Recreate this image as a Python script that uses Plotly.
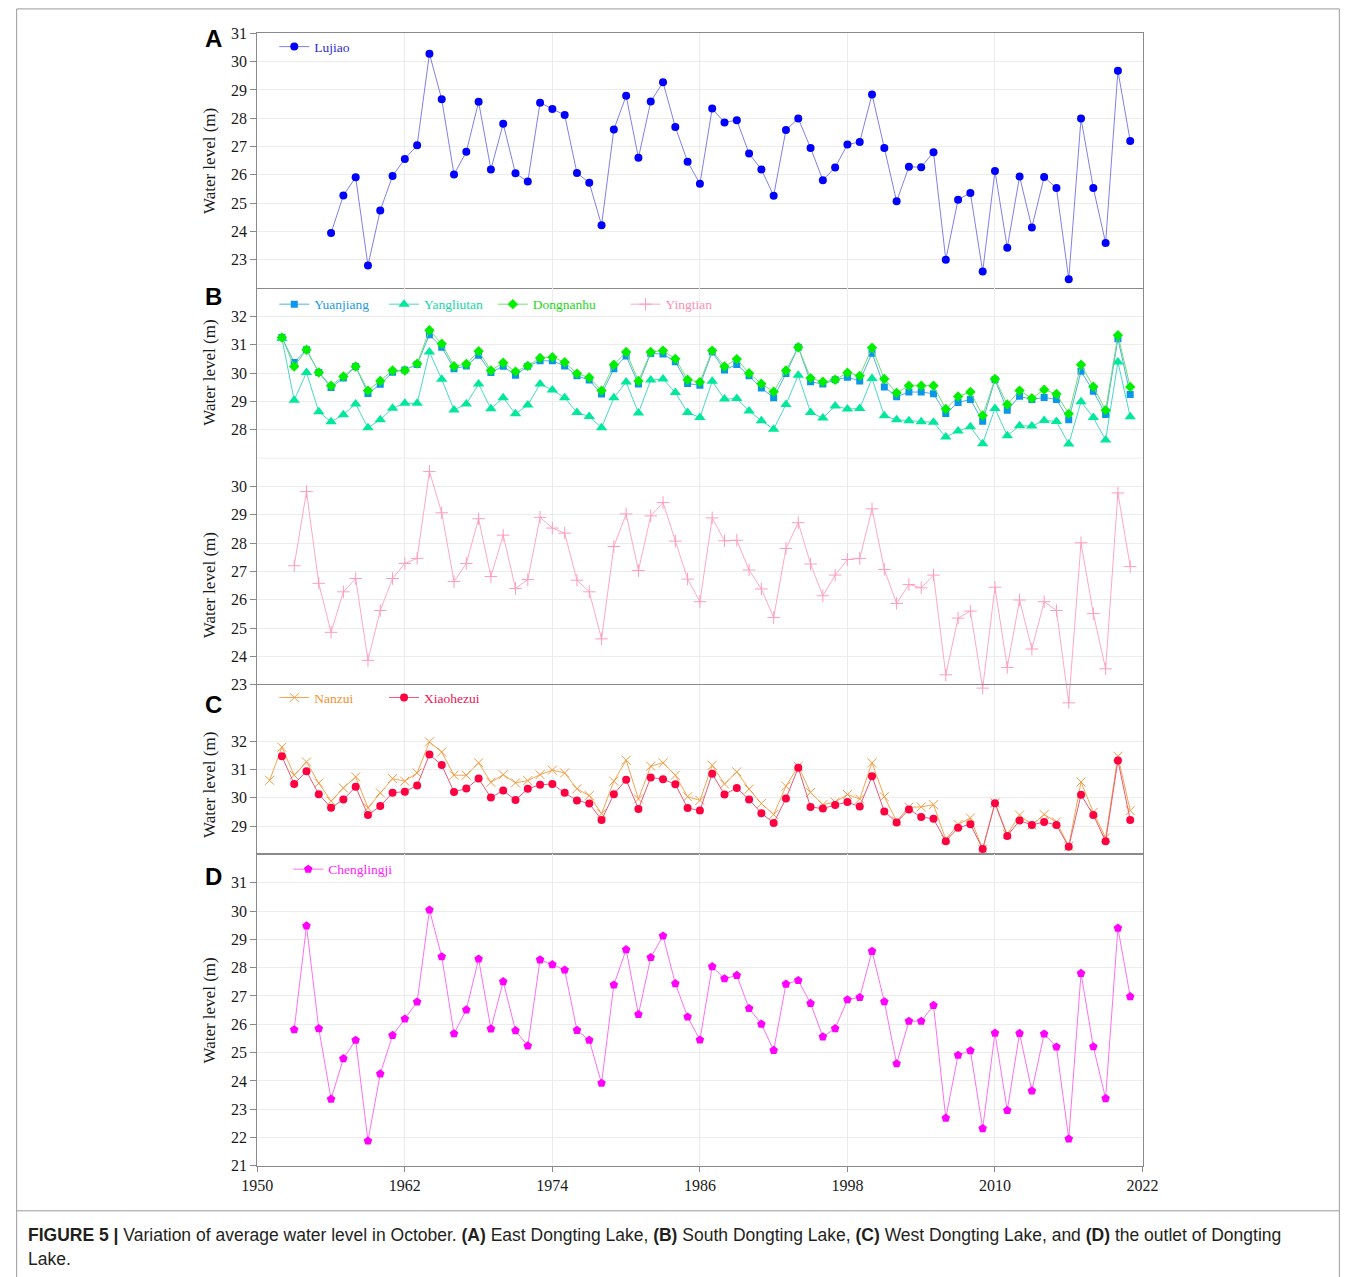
import plotly.graph_objects as go

W, H = 1356, 1277
# empirical mapping between layout paper and the photographed page
OX, OY, SW, SH = 14.2, 7.1, 1326.7, 1262.2


def fx(x):
    return min(max((x - OX) / SW, 0.0005), 0.9995)


def fy(y):
    return 1 - (y - OY) / SH


# ---------------- data (October average water level, m) ----------------
year_ticks = [1950, 1962, 1974, 1986, 1998, 2010, 2022]

lujiao_start = 1956
lujiao = [23.94, 25.27, 25.91, 22.79, 24.74, 25.96, 26.56, 27.04, 30.28, 28.67,
          26.01, 26.81, 28.58, 26.19, 27.80, 26.05, 25.76, 28.55, 28.33, 28.11,
          26.06, 25.72, 24.22, 27.60, 28.79, 26.60, 28.59, 29.27, 27.69, 26.46,
          25.68, 28.34, 27.85, 27.93, 26.75, 26.19, 25.26, 27.58, 27.99, 26.95,
          25.81, 26.26, 27.07, 27.16, 28.84, 26.95, 25.06, 26.28, 26.27, 26.80,
          23.00, 25.12, 25.36, 22.58, 26.13, 23.42, 25.94, 24.14, 25.92, 25.53,
          22.31, 27.99, 25.53, 23.59, 29.68, 27.19]

yuanjiang_start = 1952
yuanjiang = [31.25, 30.37, 30.82, 30.02, 29.49, 29.82, 30.23, 29.28, 29.60, 30.03,
             30.11, 30.30, 31.35, 30.91, 30.15, 30.25, 30.63, 30.02, 30.24, 29.92,
             30.24, 30.43, 30.43, 30.25, 29.90, 29.75, 29.26, 30.15, 30.60, 29.61,
             30.69, 30.67, 30.40, 29.63,
             29.57, 30.74, 30.11, 30.30, 29.90, 29.47, 29.13, 29.98, 30.91, 29.69,
             29.61, 29.76, 29.85, 29.72, 30.70, 29.51, 29.16, 29.33, 29.33, 29.27,
             28.57, 28.96, 29.07, 28.30, 29.76, 28.69, 29.18, 29.07, 29.14, 29.07,
             28.35, 30.06, 29.36, 28.54, 31.21, 29.24]

yangliutan_start = 1952
yangliutan = [31.22, 29.04, 30.02, 28.63, 28.28, 28.53, 28.91, 28.07, 28.35, 28.76,
              28.93, 28.93, 30.74, 29.78, 28.70, 28.91, 29.61, 28.74, 29.13, 28.56,
              28.87, 29.61, 29.40, 29.13, 28.61, 28.47, 28.07, 29.13, 29.68, 28.59,
              29.75, 29.79, 29.31, 28.61,
              28.43, 29.71, 29.08, 29.10, 28.66, 28.32, 28.02, 28.89, 29.92, 28.61,
              28.41, 28.84, 28.73, 28.75, 29.81, 28.49, 28.35, 28.32, 28.28, 28.26,
              27.74, 27.96, 28.11, 27.51, 28.75, 27.79, 28.14, 28.13, 28.33, 28.29,
              27.50, 28.99, 28.43, 27.64, 30.39, 28.46]

dongnanhu_start = 1952
dongnanhu = [31.25, 30.23, 30.82, 30.02, 29.55, 29.88, 30.23, 29.38, 29.72, 30.09,
             30.09, 30.33, 31.51, 31.03, 30.24, 30.32, 30.77, 30.09, 30.36, 30.05,
             30.25, 30.53, 30.56, 30.38, 29.98, 29.84, 29.38, 30.29, 30.74, 29.72,
             30.74, 30.79, 30.50, 29.76,
             29.68, 30.79, 30.23, 30.49, 29.99, 29.62, 29.34, 30.09, 30.91, 29.82,
             29.69, 29.76, 30.01, 29.90, 30.89, 29.79, 29.30, 29.55, 29.55, 29.55,
             28.73, 29.17, 29.33, 28.50, 29.79, 28.89, 29.38, 29.11, 29.41, 29.26,
             28.56, 30.29, 29.52, 28.69, 31.33, 29.51]

yingtian_start = 1953
yingtian = [27.20, 29.82, 26.58, 24.85, 26.28, 26.75, 23.86, 25.62, 26.75, 27.28,
            27.46, 30.53, 29.07, 26.64, 27.28, 28.86, 26.82, 28.28, 26.40, 26.71,
            28.91, 28.53, 28.35, 26.69, 26.28, 24.62, 27.88, 29.03, 27.03, 28.96,
            29.43, 28.07, 26.73,
            25.93, 28.89, 28.08, 28.10, 27.05, 26.38, 25.37, 27.81, 28.72, 27.26,
            26.14, 26.87, 27.42, 27.46, 29.21, 27.07, 25.87, 26.54, 26.42, 26.87,
            23.35, 25.35, 25.60, 22.88, 26.44, 23.61, 25.99, 24.26, 25.93, 25.62,
            22.36, 28.01, 25.51, 23.56, 29.77, 27.17]

nanzui_start = 1951
nanzui = [30.62, 31.79, 30.80, 31.27, 30.52, 29.88, 30.35, 30.74, 29.65, 30.18,
          30.68, 30.59, 30.88, 31.98, 31.62, 30.80, 30.80, 31.24, 30.55, 30.82,
          30.53, 30.61, 30.82, 30.98, 30.88, 30.32, 30.08, 29.44, 30.59, 31.33,
          29.96, 31.12, 31.24, 30.80, 30.04,
          29.91, 31.15, 30.49, 30.92, 30.31, 29.80, 29.41, 30.41, 31.12, 30.19,
          29.76, 29.85, 30.12, 29.96, 31.24, 30.04, 29.18, 29.67, 29.68, 29.76,
          28.53, 29.06, 29.29, 28.19, 29.82, 28.71, 29.39, 29.04, 29.41, 29.15,
          28.29, 30.56, 29.49, 28.59, 31.47, 29.55]

xiaohezui_start = 1952
xiaohezui = [31.47, 30.49, 30.94, 30.13, 29.65, 29.94, 30.39, 29.39, 29.71, 30.18,
             30.22, 30.44, 31.53, 31.16, 30.21, 30.33, 30.68, 30.01, 30.26, 29.92,
             30.32, 30.46, 30.49, 30.18, 29.91, 29.80, 29.22, 30.13, 30.64, 29.61,
             30.72, 30.66, 30.48, 29.64,
             29.55, 30.85, 30.12, 30.35, 29.94, 29.46, 29.11, 29.98, 31.06, 29.68,
             29.62, 29.75, 29.85, 29.69, 30.76, 29.52, 29.13, 29.59, 29.32, 29.26,
             28.47, 28.94, 29.07, 28.19, 29.81, 28.65, 29.20, 29.04, 29.15, 29.04,
             28.27, 30.11, 29.39, 28.47, 31.32, 29.22]

chenglingji_start = 1953
chenglingji = [25.81, 29.48, 25.85, 23.36, 24.79, 25.44, 21.88, 24.25, 25.61, 26.19,
               26.79, 30.04, 28.39, 25.67, 26.51, 28.31, 25.84, 27.51, 25.78, 25.24,
               28.28, 28.11, 27.92, 25.79, 25.44, 23.92, 27.39, 28.64, 26.35, 28.36,
               29.12, 27.44, 26.26,
               25.45, 28.04, 27.61, 27.73, 26.56, 26.01, 25.08, 27.42, 27.55, 26.74,
               25.56, 25.85, 26.87, 26.95, 28.58, 26.80, 24.61, 26.11, 26.11, 26.67,
               22.69, 24.91, 25.07, 22.32, 25.69, 22.96, 25.68, 23.65, 25.66, 25.20,
               21.95, 27.80, 25.21, 23.38, 29.40, 26.98]


def years(start, vals):
    return list(range(start, start + len(vals)))


# ---------------- styles ----------------
SERIF = "Liberation Serif"
SANS = "Liberation Sans"
AXC = "#8a8a8a"
GRID = "#ececec"
TXT = "#1a1a1a"

X0, X1 = 256, 1143
A_TOP, A_BOT = 32.5, 287.5
B_TOP, B_MID = 287.5, 458.0
C_TOP, C_BOT = 685.0, 855.0
D_TOP, D_BOT = 855.0, 1167.0
YT_EXT = 22.15  # Yingtian axis extended below its frame so low points overflow
YT_BOT = C_TOP + (23 - YT_EXT) * (C_TOP - B_MID) / 8.0

fig = go.Figure()

series = [
    ("Lujiao", lujiao_start, lujiao, "x", "y", "#0000ff", "rgba(60,60,225,0.65)", "circle", 8, "legend", "#2b2bd6"),
    ("Yuanjiang", yuanjiang_start, yuanjiang, "x2", "y2", "#0a96ec", "#4ab0e8", "square", 7, "legend2", "#1f9ae4"),
    ("Yangliutan", yangliutan_start, yangliutan, "x2", "y2", "#00e89a", "#48d8cc", "triangle-up", 10, "legend3", "#16d6a6"),
    ("Dongnanhu", dongnanhu_start, dongnanhu, "x2", "y2", "#00f000", "#70de70", "diamond", 8, "legend4", "#1bd81b"),
    ("Yingtian", yingtian_start, yingtian, "x3", "y3", "#ff9cbd", "#ffa8c6", "cross-thin", 9, "legend5", "#ff8fb2"),
    ("Nanzui", nanzui_start, nanzui, "x4", "y4", "#f49a40", "#f4a552", "x-thin", 9, "legend6", "#f4912e"),
    ("Xiaohezui", xiaohezui_start, xiaohezui, "x4", "y4", "#ff0040", "#e85a78", "circle", 8, "legend7", "#ee1452"),
    ("Chenglingji", chenglingji_start, chenglingji, "x5", "y5", "#ff00ff", "#ff70f0", "pentagon", 9, "legend8", "#ff22ff"),
]

for name, start, vals, xa, ya, mc, lc, sym, sz, lg, tc in series:
    thin = sym.endswith("-thin")
    fig.add_trace(go.Scatter(
        x=years(start, vals), y=vals, name=name, mode="lines+markers",
        xaxis=xa, yaxis=ya, legend=lg,
        line=dict(color=lc, width=1),
        marker=dict(symbol=sym, size=sz, color=mc,
                    line=dict(color=mc, width=1 if thin else 0)),
    ))

legend_pos = {
    "legend": (273, 46, "#2b2bd6"),
    "legend2": (273, 304, "#1f9ae4"),
    "legend3": (383, 304, "#16d6a6"),
    "legend4": (492, 304, "#1bd81b"),
    "legend5": (625, 304, "#ff8fb2"),
    "legend6": (273, 698, "#f4912e"),
    "legend7": (383, 698, "#ee1452"),
    "legend8": (287, 870, "#ff22ff"),
}
lay = {}
for key, (lx, ly, col) in legend_pos.items():
    lay[key] = dict(x=fx(lx), y=fy(ly), xanchor="left", yanchor="middle",
                    orientation="h", bgcolor="rgba(0,0,0,0)", borderwidth=0,
                    font=dict(family=SERIF, size=13.5, color=col),
                    itemclick=False, itemdoubleclick=False)

xbase = dict(range=[1950, 2022], domain=[fx(X0), fx(X1)], tickvals=year_ticks,
             showgrid=True, gridcolor=GRID, gridwidth=1, zeroline=False,
             showticklabels=False, ticks="", linecolor=AXC, linewidth=1)
ybase = dict(showgrid=True, gridcolor=GRID, gridwidth=1, zeroline=False,
             ticks="outside", ticklen=6, tickcolor=AXC, tickwidth=1,
             showline=True, mirror=True, linecolor=AXC, linewidth=1,
             tickfont=dict(family=SERIF, size=16, color=TXT))

lay["xaxis"] = dict(xbase, anchor="y", showline=True, mirror=True)
lay["xaxis2"] = dict(xbase, anchor="y2", showline=False)
lay["xaxis3"] = dict(xbase, anchor="y3", showline=False)
lay["xaxis4"] = dict(xbase, anchor="y4", showline=True, mirror=True)
lay["xaxis5"] = dict(xbase, anchor="y5", showline=True, mirror=True,
                     showticklabels=True, ticks="outside", ticklen=5,
                     tickcolor=AXC,
                     tickfont=dict(family=SERIF, size=16, color=TXT))

lay["yaxis"] = dict(ybase, anchor="x", domain=[fy(A_BOT), fy(A_TOP)],
                    range=[22, 31], tickvals=list(range(23, 32)))
lay["yaxis2"] = dict(ybase, anchor="x2", domain=[fy(B_MID), fy(B_TOP)],
                     range=[27, 33], tickvals=list(range(28, 33)))
lay["yaxis3"] = dict(ybase, anchor="x3", domain=[fy(YT_BOT), fy(B_MID)],
                     range=[YT_EXT, 31], tickvals=list(range(23, 31)))
lay["yaxis4"] = dict(ybase, anchor="x4", domain=[fy(C_BOT), fy(C_TOP)],
                     range=[28, 34], tickvals=list(range(29, 33)))
lay["yaxis5"] = dict(ybase, anchor="x5", domain=[fy(D_BOT), fy(D_TOP)],
                     range=[21, 32], tickvals=list(range(21, 32)))

annotations = []
for yc in [160, 372, 585, 785, 1011]:
    annotations.append(dict(text="Water level (m)", x=fx(208), y=fy(yc),
                            xref="paper", yref="paper", showarrow=False,
                            textangle=-90, xanchor="center", yanchor="middle",
                            font=dict(family=SERIF, size=17, color=TXT)))
for letter, ly in [("A", 38), ("B", 296), ("C", 705), ("D", 877)]:
    annotations.append(dict(text="<b>%s</b>" % letter, x=fx(212), y=fy(ly),
                            xref="paper", yref="paper", showarrow=False,
                            xanchor="center", yanchor="middle",
                            font=dict(family=SANS, size=24, color="#000000")))
caption1 = ("<b>FIGURE 5 |</b> Variation of average water level in October. "
            "<b>(A)</b> East Dongting Lake, <b>(B)</b> South Dongting Lake, "
            "<b>(C)</b> West Dongting Lake, and <b>(D)</b> the outlet of Dongting")
caption2 = "Lake."
for txt, cy in [(caption1, 1236), (caption2, 1260)]:
    annotations.append(dict(text=txt, x=fx(24), y=fy(cy), xref="paper",
                            yref="paper", showarrow=False, xanchor="left",
                            yanchor="middle", align="left",
                            font=dict(family=SANS, size=17.5, color="#231f20")))

FR = "#9a9a9a"
shapes = [
    dict(type="line", xref="paper", yref="paper", x0=fx(8), x1=fx(8),
         y0=fy(8), y1=fy(1300), line=dict(color=FR, width=1)),
    dict(type="line", xref="paper", yref="paper", x0=fx(1348), x1=fx(1348),
         y0=fy(8), y1=fy(1300), line=dict(color=FR, width=1)),
    dict(type="line", xref="paper", yref="paper", x0=fx(8), x1=fx(1348),
         y0=fy(8), y1=fy(8), line=dict(color=FR, width=1)),
    dict(type="line", xref="paper", yref="paper", x0=fx(8), x1=fx(1348),
         y0=fy(1212), y1=fy(1212), line=dict(color=FR, width=1)),
    dict(type="line", xref="paper", yref="paper", x0=fx(X0), x1=fx(X1),
         y0=fy(B_MID), y1=fy(B_MID), line=dict(color=GRID, width=1),
         layer="below"),
]

lay.update(dict(
    width=W, height=H, margin=dict(l=0, r=0, t=0, b=0),
    paper_bgcolor="white", plot_bgcolor="rgba(0,0,0,0)",
    showlegend=True, annotations=annotations, shapes=shapes,
    font=dict(family=SERIF, color=TXT),
))
fig.update_layout(**lay)

fig.write_html("out.html")
